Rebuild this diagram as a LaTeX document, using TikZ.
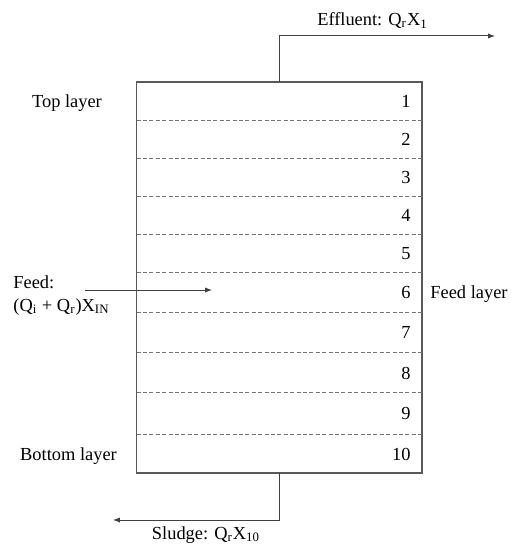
\documentclass[tikz,border=0pt]{standalone}
\usepackage{fontspec}
\setmainfont{Liberation Serif}
\usetikzlibrary{arrows.meta}
\newcommand{\labfont}{\fontsize{9.2}{11.2}\selectfont}

\begin{document}
\begin{tikzpicture}[x=0.5pt,y=-0.5pt,
  col/.style={draw=black!65,line width=0.9pt,minimum width=142.6pt,minimum height=195.4pt,inner sep=0pt,outer sep=0pt},
  lay/.style={draw=black!55,line width=0.4pt,dash pattern=on 2pt off 1.2pt},
  pipe/.style={draw=black!75,line width=0.5pt,-{Latex[length=3.4pt,width=2.6pt]}},
  lab/.style={font=\labfont,inner sep=0pt}]
  \useasboundingbox (0,0) rectangle (510,549);
  \node[col] (tank) at (279.1,277.75) {};
  \foreach \y in {120,158,196,234,272.5,312,352.5,392.5,434}
    \draw[lay] (tank.west |- 0,\y) -- (tank.east |- 0,\y);
  \foreach \n/\y in {1/101,2/139,3/177,4/215,5/253,6/292,7/332,8/372.5,9/413,10/453.5}
    \node[lab,anchor=base east] (n\n) at (411,\y+6.5) {\n};
  \node[lab,anchor=base] (top) at (67,107.5) {Top layer};
  \node[lab,anchor=base] (bot) at (68.5,460) {Bottom layer};
  \node[lab,anchor=base west] (feedlay) at (430,298.5) {Feed layer};
  \node[lab,anchor=base west] (feed) at (13,288.5) {Feed:};
  \node[lab,anchor=base west] (feedq) at (13,311.5) {(Q\textsubscript{i} + Q\textsubscript{r})X\textsubscript{IN}};
  \node[lab,anchor=base] (eff) at (372.5,26) {Effluent: Q\textsubscript{r}X\textsubscript{1}};
  \node[lab,anchor=base] (sludge) at (206,539) {Sludge: Q\textsubscript{r}X\textsubscript{10}};
  \coordinate (effout) at (495,36);
  \coordinate (sludgeout) at (113,520);
  \coordinate (feedin) at (85,290);
  \coordinate (feedout) at (212,290);
  \draw[pipe] (tank.north) |- (effout);
  \draw[pipe] (tank.south) |- (sludgeout);
  \draw[pipe] (feedin) -- (feedout);
\end{tikzpicture}
\end{document}
